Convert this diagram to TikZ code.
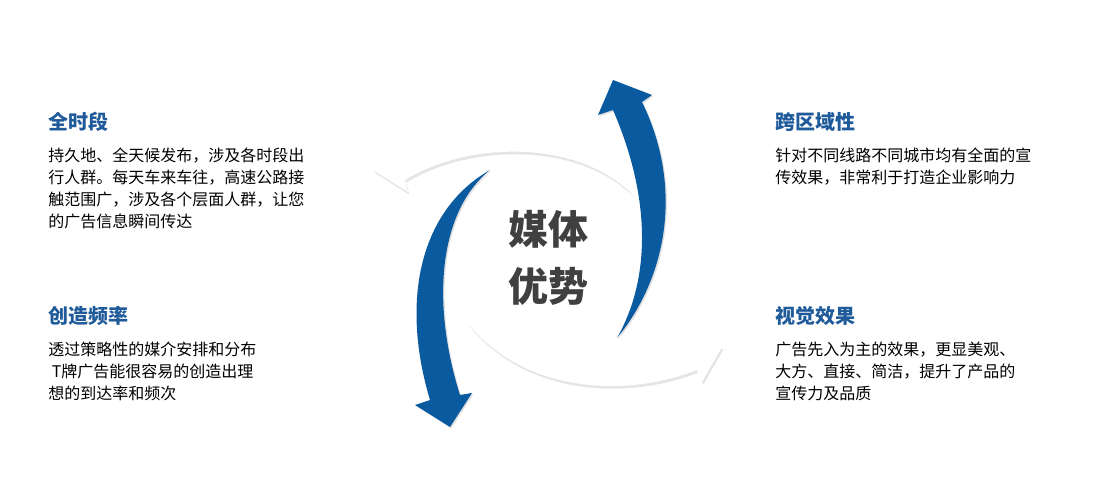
\documentclass[tikz,border=0pt]{standalone}
\usepackage{fontspec}
\setmainfont{Noto Sans CJK SC}
\usetikzlibrary{shadows}
\definecolor{hblue}{HTML}{1F5A9A}
\definecolor{ablue}{HTML}{0A5AA0}
\tikzset{
  head/.style={anchor=north west,text=hblue,font=\fontsize{15}{18}\selectfont\bfseries,inner sep=0pt},
  body/.style={anchor=north west,align=left,font=\fontsize{12}{16.5}\selectfont,inner sep=0pt},
  barrow/.style={fill=ablue,draw=none,drop shadow={opacity=0.25,shadow xshift=1pt,shadow yshift=-1pt}},
  warrow/.style={fill=white,draw=none,drop shadow={opacity=0.2,shadow xshift=1pt,shadow yshift=-2pt}},
}
\begin{document}
\begin{tikzpicture}[x=0.75pt,y=-0.75pt]
\useasboundingbox (0,0) rectangle (1107,491);
\fill[white] (0,0) rectangle (1107,491);
% arrows
\path[warrow] (633,195) .. controls (580,120) and (470,110) .. (400,148) -- (393,140) -- (373,170) -- (408,192) -- (405,180) .. controls (470,140) and (580,140) .. (633,195) -- cycle;
\path[warrow] (467,322) .. controls (520,390) and (620,400) .. (697,370) -- (702,382) -- (722,347) -- (690,327) -- (693,337) .. controls (620,370) and (530,370) .. (467,322) -- cycle;
\path[barrow] (617,338) .. controls (665,280) and (685,190) .. (642,102) -- (652,95) -- (613,80) -- (598,115) -- (613,110) .. controls (652,200) and (650,280) .. (617,338) -- cycle;
\path[barrow] (490,170) .. controls (420,210) and (400,300) .. (430,400) -- (415,405) -- (450,427) -- (472,393) -- (460,395) .. controls (430,300) and (440,210) .. (490,170) -- cycle;
% center
\node[font=\fontsize{30}{43}\selectfont\bfseries,text=black!75,align=center] (c) at (548,258) {媒体\\优势};
% texts
\node[head] (h1) at (48,112) {全时段};
\node[body] (b1) at (48,148) {持久地、全天候发布，涉及各时段出\\行人群。每天车来车往，高速公路接\\触范围广，涉及各个层面人群，让您\\的广告信息瞬间传达};
\node[head] (h2) at (48,306) {创造频率};
\node[body] (b2) at (48,342) {透过策略性的媒介安排和分布\\\ T牌广告能很容易的创造出理\\想的到达率和频次};
\node[head] (h3) at (775,112) {跨区域性};
\node[body] (b3) at (775,148) {针对不同线路不同城市均有全面的宣\\传效果，非常利于打造企业影响力};
\node[head] (h4) at (775,306) {视觉效果};
\node[body] (b4) at (775,342) {广告先入为主的效果，更显美观、\\大方、直接、简洁，提升了产品的\\宣传力及品质};
\end{tikzpicture}
\end{document}
